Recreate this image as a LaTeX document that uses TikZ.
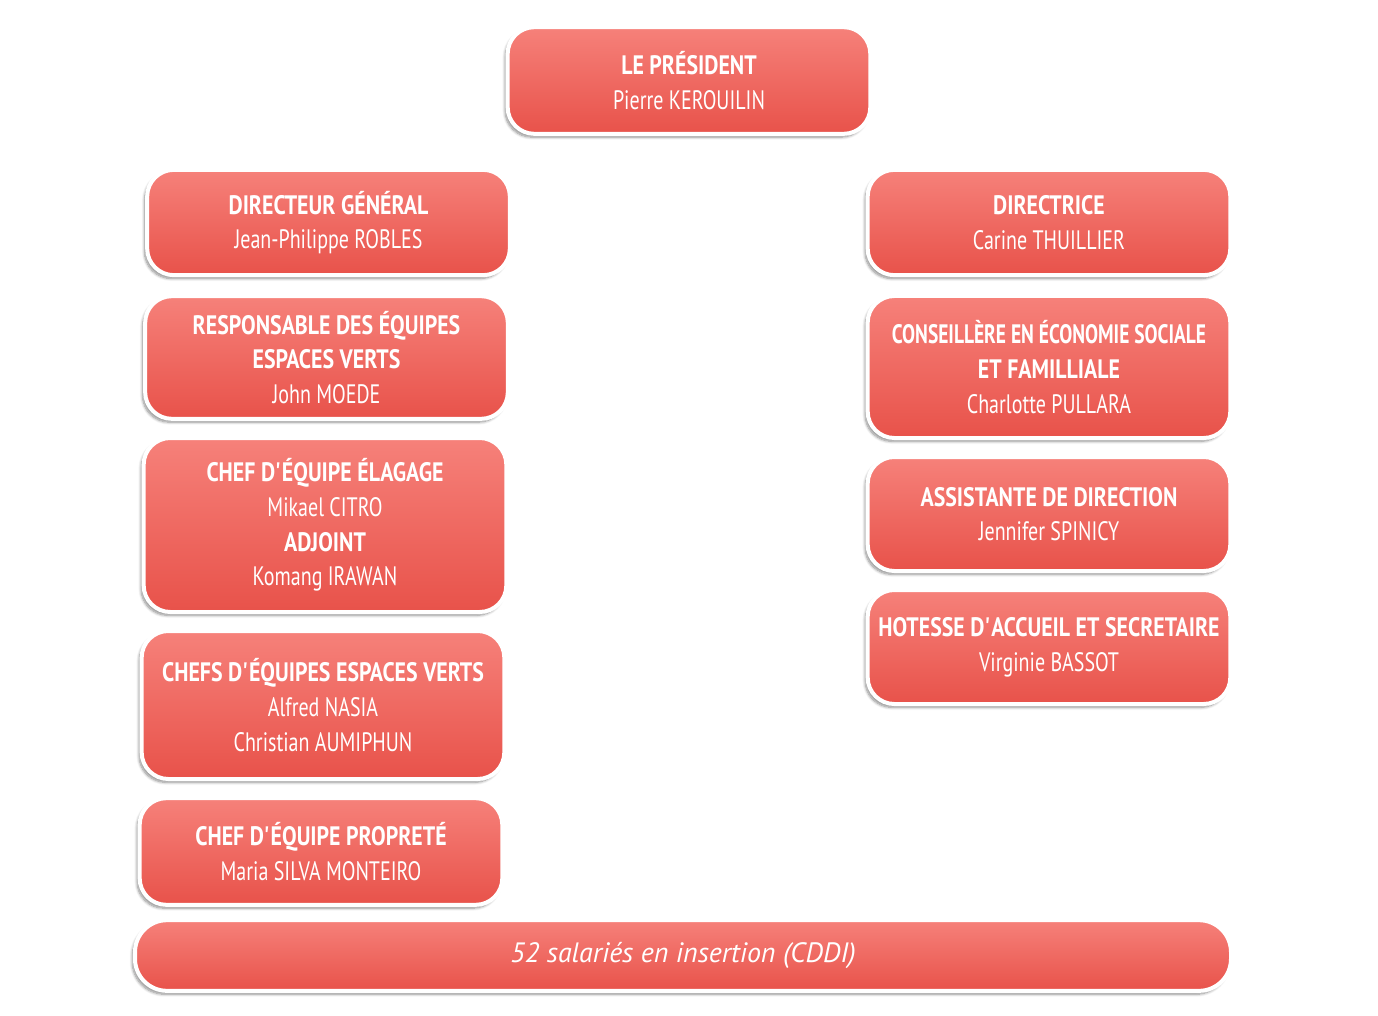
\documentclass[tikz,border=0pt]{standalone}
\usepackage{fontspec}
\setmainfont{PT Sans}[FakeStretch=0.75, BoldFeatures={FakeStretch=0.82}]
\newfontfamily\narrowbold{PT Sans Bold}[FakeStretch=0.73]
\newfontfamily\barfont{PT Sans}
\usepackage{xcolor}
\usetikzlibrary{shadows.blur}
\definecolor{boxtop}{HTML}{F6817A}
\definecolor{boxbot}{HTML}{E8524A}
\newcommand{\apos}{\textquotesingle}
\tikzset{
    orgbox/.style={draw=white, line width=3pt, rounded corners=20pt,
        top color=boxtop, bottom color=boxbot, text=white,
        align=center, inner sep=0pt,
        minimum width=272pt, font=\fontsize{20}{26}\selectfont,
        blur shadow={shadow xshift=-2pt, shadow yshift=-2.5pt,
            shadow blur steps=8, shadow opacity=45}},
}

\begin{document}
\begin{tikzpicture}[x=0.75pt,y=-0.75pt]
    \useasboundingbox (0,0) rectangle (1378,1016);

    \node[orgbox, minimum height=80pt] (president) at (689,80.5) {\textbf{LE PRÉSIDENT}\\Pierre KEROUILIN};

    % left column
    \node[orgbox, minimum height=79pt] (dg) at (328.5,222.5) {\textbf{DIRECTEUR GÉNÉRAL}\\Jean-Philippe ROBLES};
    \node[orgbox, minimum height=92pt] (resp) at (326.5,357.5) {\textbf{RESPONSABLE DES ÉQUIPES}\\\textbf{ESPACES VERTS}\\John MOEDE};
    \node[orgbox, minimum height=130.5pt] (elagage) at (325,525) {\textbf{CHEF D\apos ÉQUIPE ÉLAGAGE}\\Mikael CITRO\\\textbf{ADJOINT}\\Komang IRAWAN};
    \node[orgbox, minimum height=111pt] (chefsev) at (323,705) {\textbf{CHEFS D\apos ÉQUIPES ESPACES VERTS}\\Alfred NASIA\\Christian AUMIPHUN};
    \node[orgbox, minimum height=80pt] (proprete) at (321,851.5) {\textbf{CHEF D\apos ÉQUIPE PROPRETÉ}\\Maria SILVA MONTEIRO};

    % right column
    \node[orgbox, minimum height=79pt] (directrice) at (1049,222.5) {\textbf{DIRECTRICE}\\Carine THUILLIER};
    \node[orgbox, minimum height=106.5pt] (conseil) at (1049,367) {{\narrowbold CONSEILLÈRE EN ÉCONOMIE SOCIALE}\\\textbf{ET FAMILLIALE}\\Charlotte PULLARA};
    \node[orgbox, minimum height=85.5pt] (assistante) at (1049,514) {\textbf{ASSISTANTE DE DIRECTION}\\Jennifer SPINICY};
    \node[orgbox, minimum height=85.5pt] (hotesse) at (1049,647) {\textbf{HOTESSE D\apos ACCUEIL ET SECRETAIRE}\\Virginie BASSOT};

    \node[orgbox, minimum width=822pt, minimum height=53pt, rounded corners=24pt,
        font=\barfont\fontsize{21}{26}\selectfont\itshape] (insertion) at (683,955.5) {52 salariés en insertion (CDDI)};
\end{tikzpicture}
\end{document}
